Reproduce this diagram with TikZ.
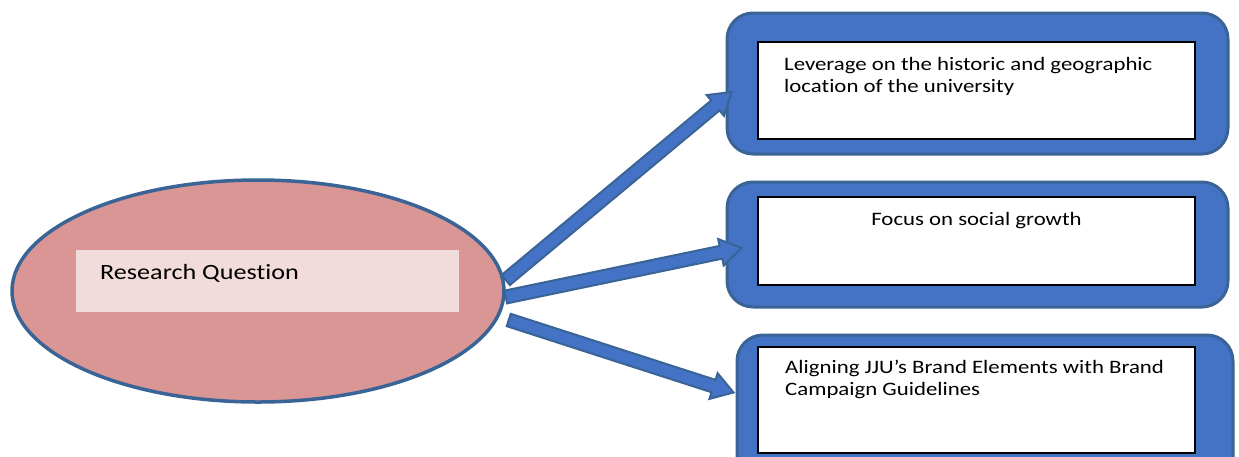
\documentclass[tikz,border=0pt]{standalone}
\usepackage{fontspec}
\setmainfont{Carlito}[FakeStretch=1.2, Ligatures=NoCommon]
\usetikzlibrary{shapes.geometric,calc}
\definecolor{bfill}{HTML}{4472C4}
\definecolor{bline}{HTML}{3A6496}
\definecolor{efill}{HTML}{D99694}
\definecolor{rfill}{HTML}{F2DCDB}
\newcommand{\blockarrow}[2]{%
  \coordinate (ba-c) at ($(#2)!21pt!(#1)$);
  \draw[arrowbody] ($(#1)!6.5pt!90:(#2)$) -- ($(ba-c)!6.5pt!-90:(#1)$)
    -- ($(ba-c)!13.5pt!-90:(#1)$) -- (#2) -- ($(ba-c)!13.5pt!90:(#1)$)
    -- ($(ba-c)!6.5pt!90:(#1)$) -- ($(#1)!6.5pt!-90:(#2)$) -- cycle;}
\tikzset{
  outerbox/.style={draw=bline, fill=bfill, line width=3pt, rounded corners=26pt, inner sep=0pt},
  innerbox/.style={draw=black, fill=white, line width=1.5pt, inner sep=0pt},
  arrowbody/.style={draw=bline, fill=bfill, line width=2pt, line join=miter},
  txt/.style={inner sep=0pt, font=\fontsize{19}{22}\selectfont, align=left, text=black},
}
\begin{document}
\begin{tikzpicture}[x=1pt,y=-1pt]
\clip (0,0) rectangle (1239,456);
\fill[white] (0,0) rectangle (1239,456);
% ellipse
\node[ellipse, draw=bline, fill=efill, line width=3.5pt, minimum width=492pt, minimum height=222pt, inner sep=0pt] (q) at (258,291) {};
\node[fill=rfill, minimum width=383pt, minimum height=62pt, inner sep=0pt] (qr) at (267.5,281) {};
\node[txt, anchor=base west, font=\fontsize{21.8}{24}\selectfont] (qt) at (100,279) {Research Question};
% boxes
\node[outerbox, minimum width=501pt, minimum height=141pt] (b1) at (977.5,83.5) {};
\node[innerbox, minimum width=437pt, minimum height=97pt] (i1) at (976.5,90.5) {};
\node[txt, anchor=base west] (t1) at (784,92) {Leverage on the historic and geographic\\location of the university};
\node[outerbox, minimum width=501pt, minimum height=125pt] (b2) at (977.5,244.5) {};
\node[innerbox, minimum width=437pt, minimum height=88pt] (i2) at (976.5,241) {};
\node[txt, anchor=base] (t2) at (976.5,225) {Focus on social growth};
\node[outerbox, minimum width=496pt, minimum height=150pt] (b3) at (985,410) {};
\node[innerbox, minimum width=437pt, minimum height=106pt] (i3) at (976.5,400) {};
\node[txt, anchor=base west] (t3) at (785,395) {Aligning JJU’s Brand Elements with Brand\\Campaign Guidelines};
% arrows
\coordinate (s1) at ([yshift=11pt]q.east);
\coordinate (s2) at ([yshift=-6pt]q.east);
\coordinate (s3) at ([shift={(3pt,-29pt)}]q.east);
\coordinate (e1) at ([shift={(6pt,-8.5pt)}]b1.west);
\coordinate (e2) at ([shift={(16pt,-3.5pt)}]b2.west);
\coordinate (e3) at ([shift={(-2pt,17.5pt)}]b3.west);
\blockarrow{s1}{e1}
\blockarrow{s2}{e2}
\blockarrow{s3}{e3}
\end{tikzpicture}
\end{document}
